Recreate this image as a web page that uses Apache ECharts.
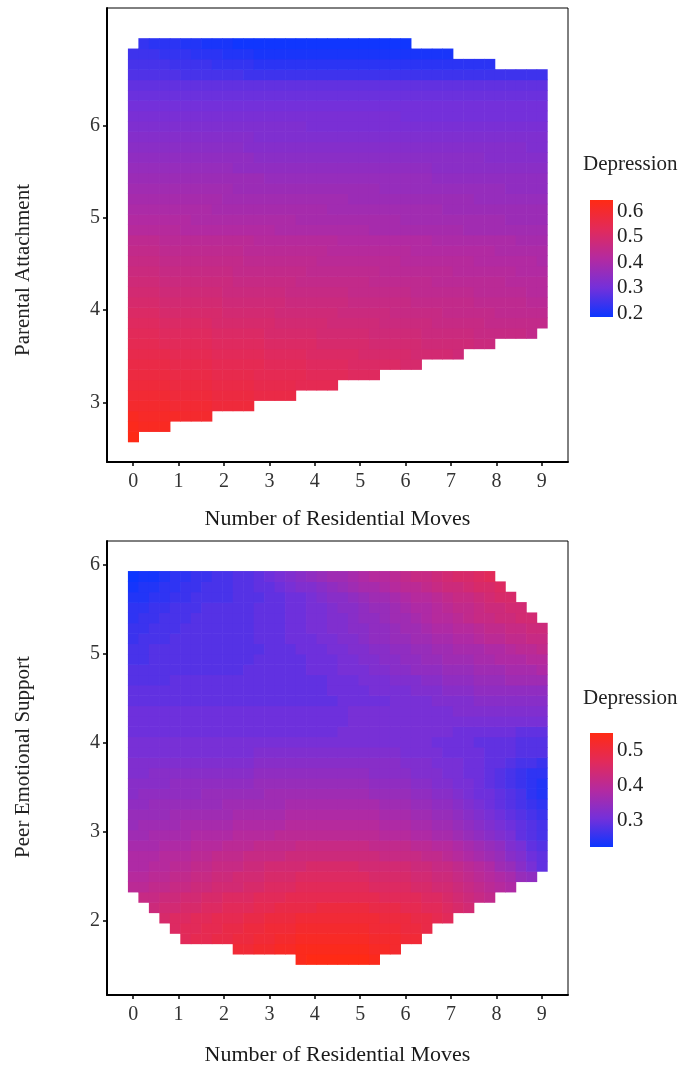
<!DOCTYPE html>
<html>
<head>
<meta charset="utf-8">
<script src="https://cdn.jsdelivr.net/npm/echarts@6/dist/echarts.min.js"></script>
<style>
    html, body { margin: 0; padding: 0; background: #fff; }
    #chart { width: 685px; height: 1070px; }
</style>
</head>
<body>
<div id="chart"></div>
<script>
// tick labels
var moveTicks = [0, 1, 2, 3, 4, 5, 6, 7, 8, 9];
var attachTicks = [3, 4, 5, 6];
var peerTicks = [2, 3, 4, 5, 6];
var attachLegendTicks = [0.2, 0.3, 0.4, 0.5, 0.6];
var peerLegendTicks = [0.3, 0.4, 0.5];

// colour range of each legend (min, max of predicted depression)
var attachRange = [0.1855, 0.643];
var peerRange = [0.2226, 0.551];
var depressionColors = ['#0c36ff', '#7430da', '#b42aa0', '#e22a5a', '#ff2a14'];

// prediction grid: 40 columns over moves 0..9, rows over the y variable
var moveStep = 9 / 39;
var attachY0 = 2.629, attachStep = 0.1121;
var peerY0 = 1.567, peerStep = 0.1164;

// Parental Attachment: first column of each row + predicted depression (x100), bottom row first
var attachStart = [0,0,0,0,0,0,0,0,0,0,0,0,0,0,0,0,0,0,0,0,0,0,0,0,0,0,0,0,0,0,0,0,0,0,0,0,0,0,1];
var attachRows = [
    [64],
    [63,62,62,62],
    [62,61,61,61,61,60,60,60],
    [60,60,60,60,59,59,59,59,58,58,58,58],
    [59,59,59,59,58,58,58,58,57,57,57,57,56,56,56,56],
    [58,58,58,58,57,57,57,57,56,56,56,56,55,55,55,55,54,54,54,54],
    [57,57,57,57,56,56,56,56,55,55,55,55,54,54,54,54,54,53,53,53,53,52,52,52],
    [56,56,56,56,55,55,55,55,54,54,54,54,54,53,53,53,53,52,52,52,52,51,51,51,51,51,50,50],
    [55,55,55,55,54,54,54,54,53,53,53,53,53,52,52,52,52,51,51,51,51,51,50,50,50,50,50,49,49,49,49,48],
    [54,54,54,53,53,53,53,53,52,52,52,52,52,51,51,51,51,51,50,50,50,50,50,49,49,49,49,49,48,48,48,48,48,47,47],
    [53,53,53,52,52,52,52,52,51,51,51,51,51,50,50,50,50,50,49,49,49,49,49,48,48,48,48,48,47,47,47,47,47,46,46,46,46,46,45],
    [52,52,52,51,51,51,51,51,50,50,50,50,50,50,49,49,49,49,49,48,48,48,48,48,47,47,47,47,47,46,46,46,46,46,45,45,45,45,45,45],
    [51,51,51,50,50,50,50,50,50,49,49,49,49,49,48,48,48,48,48,48,47,47,47,47,47,46,46,46,46,46,45,45,45,45,45,44,44,44,44,44],
    [50,50,50,49,49,49,49,49,49,48,48,48,48,48,48,47,47,47,47,47,47,46,46,46,46,46,46,45,45,45,45,45,45,44,44,44,44,44,43,43],
    [49,49,49,48,48,48,48,48,48,47,47,47,47,47,47,46,46,46,46,46,46,45,45,45,45,45,45,44,44,44,44,44,44,43,43,43,43,43,42,42],
    [48,48,48,47,47,47,47,47,47,47,46,46,46,46,46,46,45,45,45,45,45,45,45,44,44,44,44,44,44,43,43,43,43,43,43,43,42,42,42,42],
    [47,47,47,46,46,46,46,46,46,46,45,45,45,45,45,45,45,44,44,44,44,44,44,44,43,43,43,43,43,43,43,42,42,42,42,42,42,41,41,41],
    [46,46,46,45,45,45,45,45,45,45,45,44,44,44,44,44,44,44,43,43,43,43,43,43,43,43,42,42,42,42,42,42,42,41,41,41,41,41,41,40],
    [45,45,45,44,44,44,44,44,44,44,44,43,43,43,43,43,43,43,43,42,42,42,42,42,42,42,42,41,41,41,41,41,41,41,41,40,40,40,40,40],
    [44,44,44,43,43,43,43,43,43,43,43,43,42,42,42,42,42,42,42,42,41,41,41,41,41,41,41,41,41,40,40,40,40,40,40,40,40,39,39,39],
    [42,42,42,42,42,41,41,41,41,41,41,41,41,41,40,40,40,40,40,40,40,40,40,39,39,39,39,39,39,39,39,39,38,38,38,38,38,38,38,38],
    [41,41,41,41,41,41,40,40,40,40,40,40,40,40,40,40,39,39,39,39,39,39,39,39,39,39,38,38,38,38,38,38,38,38,38,38,37,37,37,37],
    [40,40,40,40,40,40,40,40,39,39,39,39,39,39,39,39,39,39,39,38,38,38,38,38,38,38,38,38,38,38,37,37,37,37,37,37,37,37,37,37],
    [39,39,39,39,39,39,39,39,39,38,38,38,38,38,38,38,38,38,38,38,38,37,37,37,37,37,37,37,37,37,37,37,37,36,36,36,36,36,36,36],
    [38,38,38,38,38,38,38,38,38,38,37,37,37,37,37,37,37,37,37,37,37,37,37,37,36,36,36,36,36,36,36,36,36,36,36,36,35,35,35,35],
    [37,37,37,37,37,37,37,37,37,37,37,37,37,36,36,36,36,36,36,36,36,36,36,36,36,36,36,36,36,35,35,35,35,35,35,35,35,35,35,35],
    [36,36,36,36,36,36,36,36,36,36,35,35,35,35,35,35,35,35,35,35,35,35,35,35,35,35,35,35,35,34,34,34,34,34,34,34,34,34,34,34],
    [35,35,35,35,35,35,35,35,35,35,35,35,34,34,34,34,34,34,34,34,34,34,34,34,34,34,34,34,34,34,34,34,34,34,33,33,33,33,33,33],
    [34,34,34,34,34,34,34,34,34,34,34,33,33,33,33,33,33,33,33,33,33,33,33,33,33,33,33,33,33,33,33,33,33,33,33,33,33,33,32,32],
    [33,33,33,33,33,33,33,33,33,33,33,33,32,32,32,32,32,32,32,32,32,32,32,32,32,32,32,32,32,32,32,32,32,32,32,32,32,32,32,32],
    [32,32,32,32,32,32,32,32,32,32,32,32,32,32,32,32,32,31,31,31,31,31,31,31,31,31,31,31,31,31,31,31,31,31,31,31,31,31,31,31],
    [31,31,31,31,31,31,31,31,31,31,31,31,31,31,31,31,31,31,31,31,31,31,31,31,31,31,30,30,30,30,30,30,30,30,30,30,30,30,30,30],
    [30,30,30,30,30,30,30,30,30,30,30,30,30,30,30,30,30,30,30,30,30,30,30,30,30,30,30,30,30,30,30,30,30,30,30,30,30,30,30,30],
    [29,29,29,29,29,29,29,29,29,29,29,29,29,29,29,29,29,29,29,29,29,29,29,29,29,29,29,29,29,29,29,29,29,29,29,29,29,29,29,29],
    [28,28,28,28,28,28,28,28,28,28,28,28,28,28,28,28,28,28,28,28,28,28,28,28,28,28,28,28,28,28,28,28,28,28,28,28,28,28,28,28],
    [26,26,26,26,26,25,25,25,25,25,25,24,24,24,24,24,24,24,24,24,24,24,24,24,24,24,24,24,24,24,24,24,24,24,24,24,24,24,24,24],
    [25,25,25,25,24,24,24,24,23,23,23,23,22,22,22,22,22,22,22,22,22,22,22,22,22,22,22,22,22,22,22,22,22,22,22],
    [24,24,24,23,23,23,22,22,22,21,21,21,20,20,20,20,20,20,20,20,20,20,20,20,20,20,20,20,20,20,20],
    [23,22,22,22,21,21,20,20,20,19,19,19,19,19,19,19,19,19,19,19,19,19,19,19,19,19]
];

// Peer Emotional Support
var peerStart = [16,10,5,4,3,2,1,0,0,0,0,0,0,0,0,0,0,0,0,0,0,0,0,0,0,0,0,0,0,0,0,0,0,0,0,0,0,0];
var peerRows = [
    [54,55,55,55,55,55,55,54],
    [51,51,52,52,53,53,54,54,54,54,54,54,54,53,53,52],
    [47,48,48,49,49,50,50,51,51,52,52,53,53,53,53,53,53,53,52,52,52,51,51],
    [46,47,47,48,48,49,49,50,50,51,51,51,52,52,52,52,52,52,52,51,51,51,50,50,49],
    [45,46,46,47,47,48,48,48,49,49,50,50,50,51,51,51,51,51,51,51,51,50,50,50,49,49,48,47],
    [43,44,44,45,45,46,46,47,47,47,48,48,49,49,49,49,50,50,50,50,50,49,49,49,48,48,47,47,46,45,44],
    [42,42,43,43,44,44,45,45,46,46,46,47,47,47,48,48,48,48,48,48,48,48,48,47,47,47,47,46,46,45,44,43,42,41],
    [40,40,41,41,42,42,43,43,44,44,44,45,45,46,46,46,47,47,47,47,47,47,47,46,46,46,46,45,45,44,44,43,42,41,40,39,38],
    [39,39,40,40,41,41,42,42,43,43,44,44,44,45,45,45,46,46,46,46,46,46,46,45,45,45,45,44,44,43,43,42,41,40,39,38,37,35,34],
    [38,38,39,39,40,40,41,41,42,42,42,43,43,44,44,44,44,45,45,45,45,45,44,44,44,44,44,43,43,42,42,41,40,39,38,36,35,33,31,29],
    [38,38,38,39,39,39,40,40,41,41,41,42,42,42,42,43,43,43,43,43,43,43,43,43,42,42,42,42,41,41,40,39,38,37,36,35,33,32,30,29],
    [37,37,37,38,38,38,39,39,39,40,40,40,41,41,41,41,42,42,42,42,42,42,42,41,41,41,41,40,40,39,39,38,37,36,35,34,32,31,29,28],
    [36,36,37,37,37,37,38,38,38,38,39,39,39,39,40,40,40,40,40,40,40,40,40,40,39,39,39,38,38,37,37,36,35,34,33,32,31,29,28,27],
    [35,36,36,36,36,37,37,37,37,37,38,38,38,38,38,39,39,39,39,39,39,39,39,39,38,38,38,37,37,36,36,35,34,33,32,31,30,29,28,27],
    [35,35,35,35,36,36,36,36,36,36,37,37,37,37,37,38,38,38,38,38,38,38,38,38,37,37,37,36,36,35,35,34,33,32,31,30,29,28,27,26],
    [34,34,35,35,35,35,35,35,35,36,36,36,36,36,36,37,37,37,37,37,37,37,37,37,36,36,36,35,35,34,34,33,32,31,30,29,28,27,26,25],
    [33,34,34,34,34,34,34,35,35,35,35,35,35,36,36,36,36,36,36,36,36,36,36,35,35,35,35,34,34,33,33,32,31,30,30,29,28,27,25,24],
    [33,33,33,33,34,34,34,34,34,34,34,34,35,35,35,35,35,35,35,35,35,35,35,34,34,34,34,33,33,32,32,31,31,30,29,28,27,26,25,24],
    [32,32,33,33,33,33,33,33,33,33,33,33,34,34,34,34,34,34,34,34,34,34,34,33,33,33,33,32,32,32,31,31,30,30,29,28,27,26,25,25],
    [32,32,32,32,32,32,32,32,32,32,32,32,33,33,33,33,33,33,33,33,33,33,33,33,33,33,32,32,32,31,31,31,30,30,29,29,28,27,27,26],
    [31,31,31,31,31,31,31,31,31,31,31,31,32,32,32,32,32,32,32,32,32,32,32,32,32,32,31,31,31,31,30,30,30,30,29,29,29,28,28,28],
    [31,31,31,31,31,31,31,31,31,31,31,31,31,31,31,31,31,31,31,31,31,31,31,31,31,31,31,31,31,30,30,30,30,29,29,29,29,28,28,28],
    [30,30,30,30,30,30,30,30,30,30,30,30,30,30,30,30,30,30,30,30,31,31,31,31,31,31,31,31,31,31,31,30,30,30,30,30,30,29,29,29],
    [30,30,30,30,30,30,30,30,30,30,30,30,30,30,30,30,30,30,30,30,30,31,31,31,31,31,31,31,31,31,31,31,31,31,31,31,31,31,31,31],
    [30,30,30,30,30,30,30,30,30,30,30,30,30,30,30,30,30,30,30,30,30,31,31,31,31,31,31,31,31,31,31,32,32,32,32,32,32,32,32,32],
    [29,29,29,29,29,29,29,29,29,29,29,29,29,29,29,29,29,29,29,29,30,30,30,30,30,31,31,31,31,32,32,32,32,33,33,33,33,33,33,33],
    [29,29,29,29,29,29,29,29,29,29,29,29,29,29,29,29,29,29,29,30,30,30,30,31,31,31,31,32,32,32,33,33,33,34,34,34,34,34,34,34],
    [28,28,28,28,29,29,29,29,29,29,29,29,29,29,29,29,29,29,29,30,30,30,31,31,31,32,32,32,33,33,34,34,34,35,35,35,36,36,36,36],
    [28,28,28,28,28,28,28,28,28,28,28,29,29,29,29,29,29,30,30,30,31,31,31,32,32,33,33,34,34,34,35,35,35,36,36,36,37,37,37,38],
    [27,27,28,28,28,28,28,28,28,28,28,28,29,29,29,29,29,30,30,30,31,31,32,32,33,33,34,34,35,35,36,36,36,37,37,38,38,38,39,39],
    [27,27,28,28,28,28,28,28,28,28,28,28,28,29,29,29,30,30,30,31,31,32,32,33,33,34,34,35,35,36,36,37,37,37,38,38,39,40,40,41],
    [26,27,27,27,28,28,28,28,28,28,28,28,29,29,29,30,30,30,31,31,32,32,33,34,34,35,35,36,36,37,37,38,38,39,40,40,41,41,42,42],
    [26,26,27,27,27,28,28,28,28,28,28,28,29,29,29,30,30,31,31,32,32,33,33,34,34,35,36,36,37,38,38,39,39,40,41,41,42,42,43,43],
    [25,26,26,27,27,27,28,28,28,28,28,28,29,29,29,30,30,31,31,32,32,33,34,34,35,36,36,37,38,39,39,40,41,42,42,43,43,44,44],
    [25,25,26,26,27,27,27,28,28,28,28,28,29,29,29,30,30,31,31,32,33,33,34,35,35,36,37,38,38,39,40,41,41,42,43,43,44,44],
    [24,24,25,25,26,26,27,27,27,27,28,28,28,29,29,30,30,31,32,33,33,34,35,36,36,37,38,39,39,40,41,42,42,43,44,45,45],
    [23,24,24,25,25,26,26,27,27,27,28,28,29,29,30,31,32,32,33,34,35,36,37,37,38,39,40,40,41,42,43,43,44,45,45,46],
    [22,23,23,24,25,25,26,26,27,27,28,28,29,30,31,32,33,34,35,36,36,37,38,39,39,40,41,42,42,43,44,45,45,46,47]
];

var serif = '"Liberation Serif", "Times New Roman", serif';

function buildCells(starts, rows, y0, yStep) {
    var out = [];
    for (var r = 0; r < rows.length; r++) {
        for (var k = 0; k < rows[r].length; k++) {
            var c = starts[r] + k;
            out.push([c * moveStep, y0 + r * yStep, rows[r][k] / 100]);
        }
    }
    return out;
}

function tileRenderer(yStep) {
    return function (params, api) {
        var x = api.value(0), y = api.value(1);
        var a = api.coord([x - moveStep / 2, y + yStep / 2]);
        var b = api.coord([x + moveStep / 2, y - yStep / 2]);
        return {
            type: 'rect',
            shape: {x: a[0], y: a[1], width: b[0] - a[0] + 0.6, height: b[1] - a[1] + 0.6},
            style: {fill: api.visual('color')}
        };
    };
}

// colour bar of the legend, bottom = min, top = max
function barRenderer(params, api) {
    var a = api.coord([0, api.value(2)]);
    var b = api.coord([1, api.value(1)]);
    var stops = depressionColors.map(function (c, i) {
        return {offset: i / (depressionColors.length - 1), color: c};
    });
    return {
        type: 'rect',
        shape: {x: a[0], y: a[1], width: b[0] - a[0], height: b[1] - a[1]},
        style: {fill: new echarts.graphic.LinearGradient(0, 1, 0, 0, stops)}
    };
}

function mainX(grid, gap) {
    return {
        gridIndex: grid, type: 'value', min: -0.576, max: 9.576,
        name: 'Number of Residential Moves', nameLocation: 'middle', nameGap: gap,
        nameTextStyle: {fontFamily: serif, fontSize: 22, color: '#1a1a1a'},
        axisLine: {onZero: false, lineStyle: {color: '#000', width: 2}},
        axisTick: {customValues: moveTicks, length: 4, lineStyle: {color: '#000', width: 1.5}},
        axisLabel: {customValues: moveTicks, margin: 10, fontFamily: serif, fontSize: 20, color: '#333'},
        splitLine: {show: false}
    };
}

function mainY(grid, min, max, ticks) {
    return {
        gridIndex: grid, type: 'value', min: min, max: max,
        axisLine: {show: true, onZero: false, lineStyle: {color: '#000', width: 2}},
        axisTick: {show: true, customValues: ticks, length: 4, lineStyle: {color: '#000', width: 1.5}},
        axisLabel: {customValues: ticks, margin: 7, fontFamily: serif, fontSize: 20, color: '#333'},
        splitLine: {show: false}
    };
}

function legendY(grid, range, ticks, side) {
    return {
        gridIndex: grid, type: 'value', min: range[0], max: range[1], position: side,
        axisLine: {show: false, onZero: false},
        axisTick: {show: true, inside: true, customValues: ticks, length: 5,
            lineStyle: {color: 'rgba(255,255,255,0.75)', width: 1}},
        axisLabel: {show: side === 'right', customValues: ticks, margin: 4,
            fontFamily: serif, fontSize: 21, color: '#222',
            formatter: function (v) { return v.toFixed(1); }},
        splitLine: {show: false}
    };
}

var myChart = echarts.init(document.getElementById('chart'));

var option = {
    animation: false,
    backgroundColor: '#fff',
    textStyle: {fontFamily: serif},
    title: [
        {text: 'Depression', left: 583, top: 154, padding: 0,
            textStyle: {fontFamily: serif, fontSize: 21, fontWeight: 'normal', color: '#222'}},
        {text: 'Depression', left: 583, top: 688, padding: 0,
            textStyle: {fontFamily: serif, fontSize: 21, fontWeight: 'normal', color: '#222'}}
    ],
    grid: [
        {left: 107, top: 8, width: 461, height: 454, show: true, borderColor: '#000', borderWidth: 1},
        {left: 590, top: 200, width: 23, height: 117},
        {left: 107, top: 541, width: 461, height: 454, show: true, borderColor: '#000', borderWidth: 1},
        {left: 590, top: 733, width: 23, height: 114}
    ],
    xAxis: [
        mainX(0, 46),
        {gridIndex: 1, type: 'value', min: 0, max: 1, show: false},
        mainX(2, 49),
        {gridIndex: 3, type: 'value', min: 0, max: 1, show: false}
    ],
    yAxis: [
        mainY(0, 2.353, 7.272, attachTicks),
        legendY(1, attachRange, attachLegendTicks, 'right'),
        mainY(2, 1.163, 6.27, peerTicks),
        legendY(3, peerRange, peerLegendTicks, 'right'),
        legendY(1, attachRange, attachLegendTicks, 'left'),
        legendY(3, peerRange, peerLegendTicks, 'left')
    ],
    visualMap: [
        {type: 'continuous', show: false, seriesIndex: 0, dimension: 2,
            min: attachRange[0], max: attachRange[1], inRange: {color: depressionColors}},
        {type: 'continuous', show: false, seriesIndex: 2, dimension: 2,
            min: peerRange[0], max: peerRange[1], inRange: {color: depressionColors}}
    ],
    graphic: [
        {type: 'text', x: 23, y: 270, rotation: Math.PI / 2,
            style: {text: 'Parental Attachment', font: '21px ' + serif, fill: '#222',
                align: 'center', verticalAlign: 'middle', textAlign: 'center', textVerticalAlign: 'middle'}},
        {type: 'text', x: 23, y: 757, rotation: Math.PI / 2,
            style: {text: 'Peer Emotional Support', font: '21px ' + serif, fill: '#222',
                align: 'center', verticalAlign: 'middle', textAlign: 'center', textVerticalAlign: 'middle'}}
    ],
    series: [
        {type: 'custom', xAxisIndex: 0, yAxisIndex: 0, renderItem: tileRenderer(attachStep),
            data: buildCells(attachStart, attachRows, attachY0, attachStep)},
        {type: 'custom', xAxisIndex: 1, yAxisIndex: 1, renderItem: barRenderer,
            data: [[0, attachRange[0], attachRange[1]]]},
        {type: 'custom', xAxisIndex: 2, yAxisIndex: 2, renderItem: tileRenderer(peerStep),
            data: buildCells(peerStart, peerRows, peerY0, peerStep)},
        {type: 'custom', xAxisIndex: 3, yAxisIndex: 3, renderItem: barRenderer,
            data: [[0, peerRange[0], peerRange[1]]]}
    ]
};

myChart.setOption(option);
</script>
</body>
</html>
